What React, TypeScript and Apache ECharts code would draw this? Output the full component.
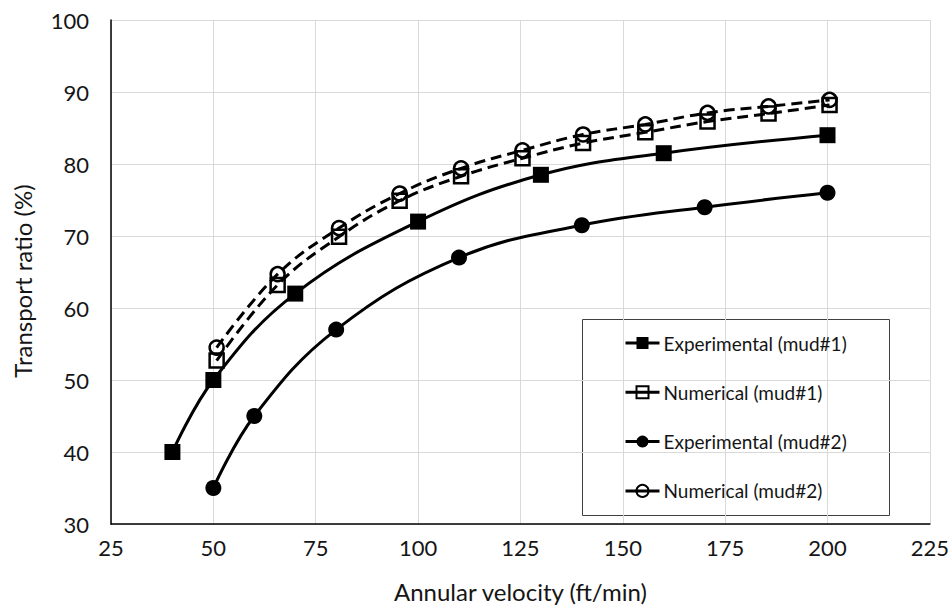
import React, { useEffect, useRef } from "react";
import * as echarts from "echarts";

const xTicks = [25, 50, 75, 100, 125, 150, 175, 200, 225];
const yTicks = [30, 40, 50, 60, 70, 80, 90, 100];

const seriesNames = [
  "Experimental (mud#1)",
  "Numerical (mud#1)",
  "Experimental (mud#2)",
  "Numerical (mud#2)",
];

const xTitle = "Annular velocity (ft/min)";
const yTitle = "Transport ratio (%)";

const exp1X = [40, 50, 70, 100, 130, 160, 200];
const exp1Y = [40, 50, 62, 72, 78.5, 81.5, 84];

const exp2X = [50, 60, 80, 110, 140, 170, 200];
const exp2Y = [35, 45, 57, 67, 71.5, 74, 76];

const numX = [50.8, 65.7, 80.7, 95.5, 110.5, 125.5, 140.3, 155.5, 170.7, 185.6, 200.5];
const num1Y = [52.7, 63.2, 69.9, 74.9, 78.3, 80.8, 82.9, 84.4, 85.9, 87.0, 88.2];
const num2Y = [54.5, 64.7, 71.1, 75.9, 79.4, 81.9, 84.1, 85.5, 87.1, 88.0, 88.9];

const FONT = "Lato";
const TXT = "#151515";

const zip = (xs: number[], ys: number[]) => xs.map((x, i) => [x, ys[i]]);

export default function App() {
  const ref = useRef<HTMLDivElement>(null);
  useEffect(() => {
    if (!ref.current) return;
    const chart = echarts.init(ref.current, null, { renderer: "svg" });
    const lineW = 3;
    const option: any = {
      animation: false,
      backgroundColor: "#ffffff",
      textStyle: { fontFamily: FONT },
      grid: { left: 111, right: 21, top: 20, bottom: 86, containLabel: false },
      xAxis: {
        type: "value",
        min: xTicks[0],
        max: xTicks[xTicks.length - 1],
        interval: xTicks[1] - xTicks[0],
        name: xTitle,
        nameLocation: "middle",
        nameGap: 55,
        nameTextStyle: { fontFamily: FONT, fontSize: 24, color: TXT },
        axisLine: { show: true, lineStyle: { color: "#000", width: 1.5 } },
        axisTick: { show: false },
        axisLabel: { fontFamily: FONT, fontSize: 22, color: TXT, margin: 12 },
        splitLine: { show: true, lineStyle: { color: "#d9d9d9", width: 1 } },
      },
      yAxis: {
        type: "value",
        min: yTicks[0],
        max: yTicks[yTicks.length - 1],
        interval: yTicks[1] - yTicks[0],
        axisLine: { show: true, lineStyle: { color: "#000", width: 1.5 } },
        axisTick: { show: false },
        axisLabel: { fontFamily: FONT, fontSize: 22, color: TXT, margin: 22 },
        splitLine: { show: true, lineStyle: { color: "#d9d9d9", width: 1 } },
      },
      legend: {
        orient: "vertical",
        left: 624,
        top: 333,
        padding: 0,
        itemWidth: 34,
        itemHeight: 15,
        itemGap: 29.3,
        selectedMode: false,
        lineStyle: { type: "solid", width: 3 },
        textStyle: { fontFamily: FONT, fontSize: 19, color: TXT, lineHeight: 20, padding: [0, 0, 0, -1] },
        data: seriesNames,
      },
      graphic: [
        {
          type: "rect",
          shape: { x: 582.5, y: 319.5, width: 307, height: 196 },
          style: { fill: "#fff", stroke: "#404040", lineWidth: 1 },
          z: 0,
        },
        {
          type: "text",
          x: 22,
          y: 281,
          rotation: Math.PI / 2,
          style: {
            text: yTitle,
            fontFamily: FONT,
            fontSize: 24,
            fill: TXT,
            align: "center",
            verticalAlign: "middle",
          },
        },
      ],
      series: [
        {
          name: seriesNames[0],
          type: "line",
          data: zip(exp1X, exp1Y),
          smooth: 0.4,
          symbol: "rect",
          symbolSize: 16,
          itemStyle: { color: "#000" },
          lineStyle: { color: "#000", width: lineW },
          z: 3,
        },
        {
          name: seriesNames[1],
          type: "line",
          data: zip(numX, num1Y),
          smooth: 0.4,
          symbol: "rect",
          symbolSize: 14,
          itemStyle: { color: "rgba(0,0,0,0)", borderColor: "#000", borderWidth: 2.5 },
          lineStyle: { color: "#000", width: lineW, type: [11, 6] },
          z: 4,
        },
        {
          name: seriesNames[2],
          type: "line",
          data: zip(exp2X, exp2Y),
          smooth: 0.4,
          symbol: "circle",
          symbolSize: 16,
          itemStyle: { color: "#000" },
          lineStyle: { color: "#000", width: lineW },
          z: 5,
        },
        {
          name: seriesNames[3],
          type: "line",
          data: zip(numX, num2Y),
          smooth: 0.4,
          symbol: "circle",
          symbolSize: 14,
          itemStyle: { color: "rgba(0,0,0,0)", borderColor: "#000", borderWidth: 2.5 },
          lineStyle: { color: "#000", width: lineW, type: [11, 6] },
          z: 6,
        },
      ],
    };
    chart.setOption(option);
    return () => chart.dispose();
  }, []);
  return (
    <div
      ref={ref}
      style={{ position: "fixed", left: 0, top: 0, width: 952, height: 610, background: "#fff" }}
    />
  );
}
